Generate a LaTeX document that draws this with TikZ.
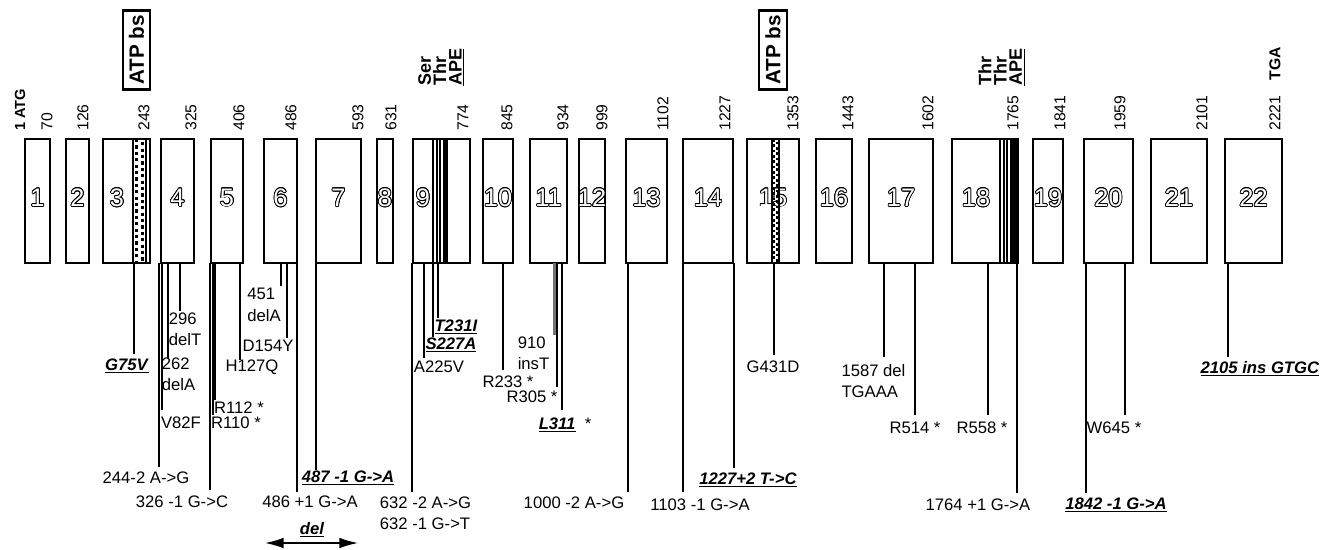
\documentclass[tikz,border=0pt]{standalone}
\usepackage{fontspec}
\setmainfont{Liberation Sans}
\usepackage{contour}
\contourlength{0.6pt}
\usetikzlibrary{arrows.meta}

\newcommand{\hot}[1]{\underline{\textbf{\textit{#1}}}}

\begin{document}
\begin{tikzpicture}[x=0.75pt, y=-0.75pt,
  exon/.style={draw, line width=1.1pt},
  cut/.style={line width=1.1pt},
  fat/.style={line width=2.2pt},
  insline/.style={line width=2.4pt, black!55},
  lab/.style={font=\fontsize{12.5}{16}\selectfont, inner sep=0pt, align=left},
  ntlab/.style={font=\fontsize{11.8}{12}\selectfont, rotate=90, anchor=west, inner sep=0pt},
  num/.style={font=\fontsize{19}{20}\selectfont, inner sep=0pt},
  site/.style={draw, line width=1.6pt, rotate=90, inner xsep=3.5pt, inner ysep=4.5pt,
    font=\bfseries\fontsize{15.5}{16}\selectfont},
  motif/.style={rotate=90, anchor=north west, align=left, inner sep=0pt,
    font=\bfseries\fontsize{13.5}{11.5}\selectfont}]

\useasboundingbox (0,0) rectangle (1329,550);

% exons: number/left/right/centre of number/position above/nt
\foreach \n/\l/\r/\c/\p/\t in {1/25/50/37.5/47/70, 2/66/89/77.5/83/126,
    3/103/150/117/144/243, 4/161/194/177.5/191/325, 5/211/243/227/239/406,
    6/264/297/280.5/291/486, 7/316/361/338.5/358/593, 8/377/393/385/391/631,
    9/413/470/423/463/774, 10/483/513/498/507/845, 11/530/567/548.5/563/934,
    12/579/605/592/602/999, 13/626/667/646.5/663/1102, 14/683/733/708/725/1227,
    15/747/799/773/793/1353, 16/816/852/834/848/1443, 17/869/933/901/928/1602,
    18/952/1018/976/1013/1765, 19/1033/1063/1048/1060/1841,
    20/1084/1133/1108.5/1120/1959, 21/1151/1207/1179/1202/2101,
    22/1225/1282/1253.5/1275/{2221\quad\textbf{TGA}}}{
  \draw[exon] (\l,139) rectangle (\r,263);
  \node[num] (e\n) at (\c,198) {\color{white}\contour{black}{\n}};
  \node[ntlab] (p\n) at (\p,131) {\t};
}
\node[ntlab, font=\bfseries\fontsize{11}{12}\selectfont] (atg) at (20,131) {1 ATG};

% ATP binding sites
\draw[line width=0.8pt] (133,139) rectangle (146,263);
\draw[line width=2.4pt, dash pattern=on 2.4pt off 2.4pt] (136.5,139) -- (136.5,263);
\draw[line width=2.4pt, dash pattern=on 2.4pt off 2.4pt, dash phase=2.4pt] (142.5,139) -- (142.5,263);
\draw[line width=0.8pt] (772,139) rectangle (779,263);
\draw[line width=1.6pt, dash pattern=on 2pt off 2pt] (774,139) -- (774,263);
\draw[line width=1.6pt, dash pattern=on 2pt off 2pt, dash phase=2pt] (777,139) -- (777,263);
\node[site] (atp1) at (136.5,50) {ATP bs};
\node[site] (atp2) at (773,50) {ATP bs};

% phosphorylation sites
\foreach \x in {433,437,440} \draw[line width=0.8pt] (\x,139) -- (\x,263);
\fill (443,139) rectangle (448,263);
\foreach \x in {1000,1004,1007} \draw[line width=0.8pt] (\x,139) -- (\x,263);
\fill (1010,139) rectangle (1018,263);
\node[motif] (ste1) at (418,86) {Ser\\Thr\\\underline{APE}};
\node[motif] (ste2) at (978,86) {Thr\\Thr\\\underline{APE}};

% mutations: id/x/end/line/label x/label y/text
\foreach \k/\x/\y/\w/\lx/\ly/\t in {
    1/134/354/cut/127/366/{\hot{G75V}},
    2/159/467/cut/146/478/{244-2 A->G},
    3/162/410/fat/181/423/{V82F},
    4/168/358/cut/178.5/374.5/{262\\delA},
    5/180/311/cut/185/329/{296\\delT},
    6/210/490/cut/182/502/{326 -1 G->C},
    7/215/400/fat/239/408/{R112 *},
    8/213/415/fat/236/423/{R110 *},
    9/240/360/cut/252/367/{H127Q},
    10/281/286/cut/264/305/{451\\delA},
    11/287/338/cut/268/346/{D154Y},
    12/297/492/cut/310/502/{486 +1 G->A},
    13/316/470/cut/348/478/{\hot{487 -1 G->A}},
    14/412/492/cut/425.5/513/{632 -2 A->G\\632 -1 G->T},
    15/424/358/cut/439/367/{A225V},
    16/433/337/cut/451/345/{\hot{S227A}},
    17/438/318/cut/456/327/{\hot{T231I}},
    18/503/370/cut/508/382/{R233 *},
    19/555/335/insline/533.5/353.5/{910\\insT},
    20/557/387/cut/532/397/{R305 *},
    21/562/410/cut/565/425/{\hot{L311}\ \ *},
    22/628/492/cut/574/503/{1000 -2 A->G},
    23/683/492/cut/700/505/{1103 -1 G->A},
    24/734/468/cut/748/480/{\hot{1227+2 T->C}},
    25/774/355/cut/773/367/{G431D},
    26/884/357/cut/873.5/381/{1587 del\\TGAAA},
    27/915/415/cut/915/428/{R514 *},
    28/988/415/cut/982/428/{R558 *},
    29/1017/493/cut/978/505/{1764 +1 G->A},
    30/1086/493/cut/1116/505/{\hot{1842 -1 G->A}},
    31/1125/415/cut/1114/428/{W645 *},
    32/1228/357/cut/1260/369/{\hot{2105 ins GTGC}}}{
  \coordinate (m\k) at (\x,263);
  \coordinate (n\k) at (\x,\y);
  \node[lab] (t\k) at (\lx,\ly) {\t};
  \draw[\w] (m\k) -- (n\k);
}

% deleted region
\coordinate (dl) at (265,543);
\coordinate (dr) at (358,543);
\draw[line width=1.2pt, {Latex[length=14pt,width=8pt]}-{Latex[length=14pt,width=8pt]}] (dl) -- (dr);
\node[lab] (del) at (312,530) {\hot{del}};
\end{tikzpicture}
\end{document}
